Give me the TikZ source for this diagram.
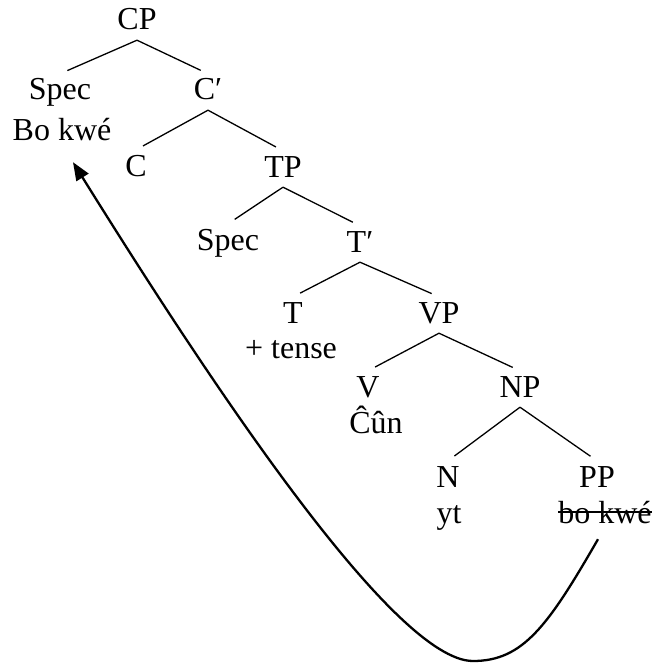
\documentclass[tikz,border=0pt]{standalone}
\usepackage{fontspec}
\setmainfont{Liberation Serif}
\usetikzlibrary{arrows.meta}
\begin{document}
\begin{tikzpicture}[x=1pt,y=-1pt,
  tn/.style={anchor=base, inner sep=0pt, text height=26pt, text depth=10pt, font=\fontsize{32}{38}\selectfont},
  edge/.style={line width=1.3pt, shorten >=8pt},
  arrowline/.style={line width=2.3pt, -{Triangle[length=18pt,width=14pt]}},
  strike/.style={line width=1.8pt}]
\useasboundingbox (0,0) rectangle (652,666);
\node[tn] (CP) at (137,30) {CP};
\node[tn] (Spec1) at (60,100) {Spec};
\node[tn] (Bokwe1) at (62,140) {Bo kwé};
\node[tn] (Cbar) at (208,100) {C′};
\node[tn] (C) at (136,176) {C};
\node[tn] (TP) at (283,177) {TP};
\node[tn] (Spec2) at (228,250) {Spec};
\node[tn] (Tbar) at (360,252) {T′};
\node[tn] (T) at (293,323) {T};
\node[tn] (tense) at (291,358) {+ tense};
\node[tn] (VP) at (439,323) {VP};
\node[tn] (V) at (368,397) {V};
\node[tn] (Cun) at (376,433) {Ĉûn};
\node[tn] (NP) at (520,397) {NP};
\node[tn] (N) at (448,487) {N};
\node[tn] (yt) at (449,523) {yt};
\node[tn] (PP) at (597,487) {PP};
\node[tn] (Bokwe2) at (605,523) {bo kwé};
\draw[edge] (CP.south) -- (Spec1.north);
\draw[edge] (CP.south) -- (Cbar.north);
\draw[edge] (Cbar.south) -- (C.north);
\draw[edge] (Cbar.south) -- (TP.north);
\draw[edge] (TP.south) -- (Spec2.north);
\draw[edge] (TP.south) -- (Tbar.north);
\draw[edge] (Tbar.south) -- (T.north);
\draw[edge] (Tbar.south) -- (VP.north);
\draw[edge] (VP.south) -- (V.north);
\draw[edge] (VP.south) -- (NP.north);
\draw[edge] (NP.south) -- (N.north);
\draw[edge] (NP.south) -- (PP.north);
\draw[strike] ([yshift=11pt]Bokwe2.base west) -- ([yshift=11pt]Bokwe2.base east);
\draw[arrowline] ([xshift=-7pt,yshift=-6pt]Bokwe2.south)
  .. controls (548,626) and (523,661) .. (473,661)
  .. controls (393,661) and (205,374) .. ([xshift=11pt,yshift=-12pt]Bokwe1.south);
\end{tikzpicture}
\end{document}
